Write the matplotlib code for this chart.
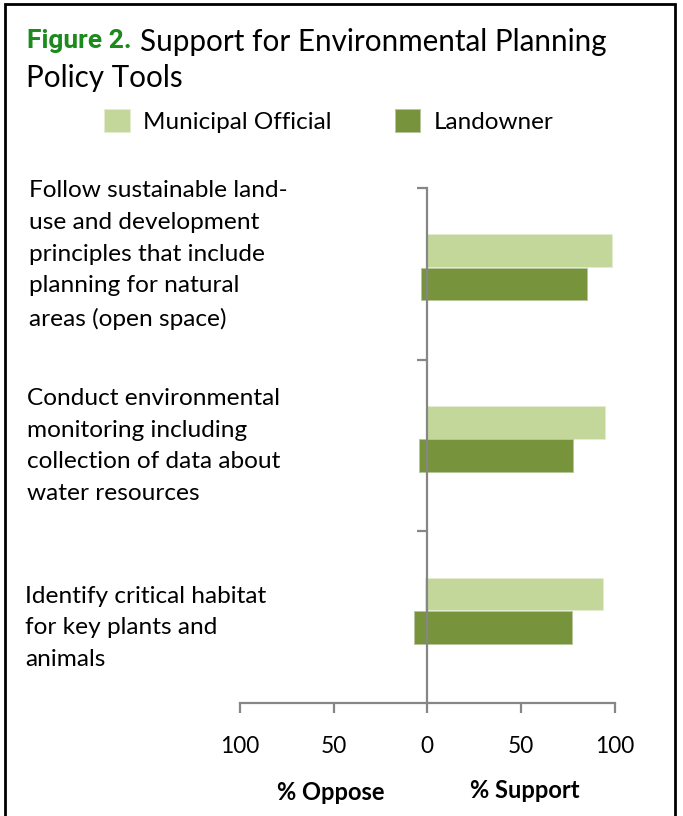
import matplotlib.pyplot as plt
from matplotlib.patches import Rectangle

# Data (percent of respondents)
tools = [
    "Follow sustainable land-\nuse and development\nprinciples that include\nplanning for natural\nareas (open space)",
    "Conduct environmental\nmonitoring including\ncollection of data about\nwater resources",
    "Identify critical habitat\nfor key plants and\nanimals",
]
municipal_support = [98.5, 95, 94]
municipal_oppose = [0, 0, 1.5]
landowner_support = [85, 78, 77]
landowner_oppose = [3.5, 4.5, 7]

x_ticks = [-100, -50, 0, 50, 100]

light = "#C4D79B"
dark = "#77933C"
grey = "#868686"

plt.rcParams["font.family"] = ["Lato", "DejaVu Sans"]

W, H = 683, 816
fig = plt.figure(figsize=(W / 100, H / 100), dpi=100)
ax = fig.add_axes([240 / W, 1 - 703 / H, 374.7 / W, 515 / H])

pos = list(range(len(tools)))
mun_y = [p + 0.365 for p in pos]
land_y = [p + 0.56 for p in pos]
h = 0.19

ax.barh(mun_y, municipal_support, height=h, color=light, edgecolor="#e4edd2", linewidth=0.6,
        label="Municipal Official")
ax.barh(mun_y, [-v for v in municipal_oppose], height=h, color=light, edgecolor="#e4edd2",
        linewidth=0.6)
ax.barh(land_y, landowner_support, height=h, color=dark, edgecolor="#b5c79a", linewidth=0.6,
        label="Landowner")
ax.barh(land_y, [-v for v in landowner_oppose], height=h, color=dark, edgecolor="#b5c79a",
        linewidth=0.6)

ax.set_xlim(-100, 100)
ax.set_ylim(3, 0)

for s in ["top", "right"]:
    ax.spines[s].set_visible(False)
ax.spines["left"].set_position(("data", 0))
ax.spines["left"].set_color(grey)
ax.spines["bottom"].set_color(grey)
ax.spines["left"].set_linewidth(1.6)
ax.spines["bottom"].set_linewidth(1.6)

ax.set_yticks([0, 1, 2])
ax.set_yticklabels([])
ax.tick_params(axis="y", length=7, width=1.6, color=grey)

ax.set_xticks(x_ticks)
ax.set_xticklabels([str(abs(t)) for t in x_ticks], fontsize=16.3)
ax.tick_params(axis="x", length=7, width=1.6, color=grey, pad=17)

# category labels to the left of the plot
label_x = [29, 27, 25]
label_y = [255, 446, 628]
for t, lx, ly in zip(tools, label_x, label_y):
    fig.text(lx / W, 1 - ly / H, t, ha="left", va="center", fontsize=17.6, linespacing=1.64)

fig.text(331 / W, 1 - 792 / H, "% Oppose", ha="center", va="center", fontsize=17,
         fontweight="bold")
fig.text(525 / W, 1 - 790 / H, "% Support", ha="center", va="center", fontsize=17,
         fontweight="bold")

# title
t1 = fig.text(27 / W, 1 - 41 / H, "Figure 2.", ha="left", va="center", fontsize=19,
              fontweight="bold", color="#1C8A1C", family=["Roboto", "DejaVu Sans"])
fig.canvas.draw()
bb = t1.get_window_extent()
fig.text((bb.x1 + 8) / W, 1 - 42 / H, "Support for Environmental Planning", ha="left",
         va="center", fontsize=21.3)
fig.text(26 / W, 1 - 78 / H, "Policy Tools", ha="left", va="center", fontsize=21.3)

fig.legend(loc="upper left", bbox_to_anchor=(104 / W, 1 - 109 / H), ncol=2, frameon=False,
           fontsize=17.5, handlelength=1.05, handleheight=1.05, handletextpad=0.55,
           columnspacing=2.6, borderpad=0, borderaxespad=0)

fig.add_artist(Rectangle((5 / W, -0.01), 670 / W, 1.01 - 4 / H, transform=fig.transFigure,
                         fill=False, edgecolor="black", linewidth=2))

fig.savefig("out.png", dpi=100)
